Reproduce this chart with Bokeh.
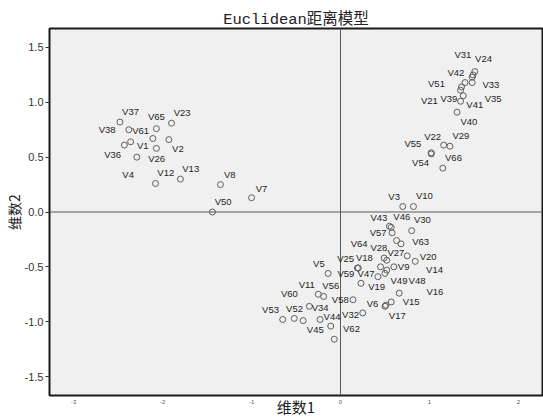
from bokeh.plotting import figure
from bokeh.models import (ColumnDataSource, LabelSet, Span, Range1d,
                          FixedTicker, NumeralTickFormatter)
from bokeh.core.properties import value
from bokeh.embed import file_html
from bokeh.resources import INLINE

# ---- data (stimulus coordinates, Euclidean distance model) ----
names = ["V%d" % i for i in range(1, 67)]
dim1 = [-2.11, -1.93, 0.70, -2.29, -0.14, 0.50, -1.00, -1.35, 0.60, 0.82,
        -0.25, -2.08, -1.80, 0.84, 0.57, 0.66, 0.51, 0.45, 0.23, 0.75,
        1.35, 1.16, -1.90, 1.51, 0.19, -2.07, 0.63, 0.52, 1.23, 0.80,
        1.49, 0.25, 1.48, -0.23, 1.48, -2.43, -2.48, -2.38, 1.35, 1.31,
        1.38, 1.40, 0.55, -0.11, -0.42, 0.57, 0.42, 0.52, 0.50, -1.44,
        1.36, -0.52, -0.65, 1.02, 1.02, -0.19, 0.58, 0.14, 0.20, -0.35,
        -2.36, -0.07, 0.68, 0.49, -2.07, 1.15]
dim2 = [0.67, 0.66, 0.05, 0.50, -0.56, -0.86, 0.13, 0.25, -0.50, 0.05,
        -0.75, 0.26, 0.30, -0.45, -0.82, -0.74, -0.85, -0.50, -0.65, -0.40,
        1.01, 0.61, 0.81, 1.28, -0.51, 0.58, -0.26, -0.44, 0.60, -0.17,
        1.25, -0.92, 1.23, -0.98, 1.18, 0.61, 0.82, 0.75, 1.11, 0.91,
        1.06, 1.18, -0.13, -1.04, -0.99, -0.14, -0.59, -0.53, -0.56, 0.00,
        1.14, -0.97, -0.98, 0.53, 0.54, -0.77, -0.19, -0.80, -0.51, -0.86,
        0.64, -1.16, -0.29, -0.42, 0.76, 0.40]
x_ticks = [-3, -2, -1, 0, 1, 2]
y_ticks = [-1.5, -1.0, -0.5, 0.0, 0.5, 1.0, 1.5]
title_text = "Euclidean距离模型"
x_title = "维数1"
y_title = "维数2"

# ---- label placement (pixels: right, down) ----
LABEL_OFFSETS = {
    "V1": (-10, 7), "V2": (9, 9.3), "V3": (-8.6, -9.6), "V4": (-8.7, 17),
    "V5": (-9.2, -9.9), "V6": (-12.5, -2.8), "V7": (10, -9.4), "V8": (9.4, -10),
    "V9": (9.8, 0), "V10": (11, -11), "V11": (-11.5, -9.4), "V12": (10.3, -10.6),
    "V13": (10.3, -10.7), "V14": (19.3, 7.8), "V15": (20, -0.3), "V16": (35.7, -1.3),
    "V17": (11.4, 9.8), "V18": (-16.2, -9.3), "V19": (15.7, 2.8), "V20": (20.9, 0.2),
    "V21": (-31.2, -0.4), "V22": (-11.1, -9), "V23": (10.6, -10.7), "V24": (8.7, -12.7),
    "V25": (-11.7, -9.8), "V26": (0.3, 10.4), "V27": (-0.7, 12.2), "V28": (-7.8, -12.7),
    "V29": (11, -10.5), "V30": (10.7, -11.4), "V31": (-10.2, -20.2), "V32": (-12.2, 1.3),
    "V33": (18.8, 7), "V34": (0.1, -11.7), "V35": (21, 16.2), "V36": (-11.7, 9.3),
    "V37": (10.6, -11), "V38": (-21.7, 0), "V39": (-11.7, 8.5), "V40": (11.8, 9.3),
    "V41": (11.5, 9), "V42": (-9.2, -10), "V43": (-10.5, -8.6), "V44": (1.3, -9.7),
    "V45": (12.1, 9.4), "V46": (10.6, -10.6), "V47": (-11.8, -3.3), "V48": (30.3, 10),
    "V49": (14, 7), "V50": (10.7, -10.6), "V51": (-25, -3), "V52": (0.3, -10),
    "V53": (-12.2, -9.8), "V54": (-10.7, 9), "V55": (-18.4, -9.4), "V56": (7.2, -11.2),
    "V57": (-14, 0), "V58": (-12.7, 0), "V59": (-12.4, 5.4), "V60": (-20, -12.6),
    "V61": (10, -11.4), "V62": (17.2, -11.2), "V63": (19.6, -2.5), "V64": (-25, -14.7),
    "V65": (0, -12), "V66": (10.7, -11),
}

X0, X1 = -3.272, 2.271
Y0, Y1 = -1.673, 1.673

source = ColumnDataSource(dict(
    x=dim1, y=dim2, name=names,
    xo=[LABEL_OFFSETS[n][0] for n in names],
    yo=[-LABEL_OFFSETS[n][1] for n in names],
))

p = figure(width=543, height=419, output_backend="svg", toolbar_location=None,
           x_range=Range1d(X0, X1), y_range=Range1d(Y0, Y1),
           min_border_left=46, min_border_right=1, min_border_top=28,
           min_border_bottom=22, title=title_text)

p.background_fill_color = "#F0F0F0"
p.border_fill_color = "white"
p.outline_line_color = "#1a1a1a"
p.outline_line_width = 2
p.xgrid.visible = False
p.ygrid.visible = False

p.title.text_font = "Liberation Mono, Noto Sans CJK SC"
p.title.text_font_size = "15.5px"
p.title.text_font_style = "normal"
p.title.text_color = "#222222"
p.title.align = "center"
p.title.offset = -11
p.title.standoff = 0

# y axis
p.yaxis.ticker = FixedTicker(ticks=y_ticks)
p.yaxis.formatter = NumeralTickFormatter(format="0.0")
p.yaxis.axis_line_color = None
p.yaxis.major_tick_out = 4
p.yaxis.major_tick_in = 0
p.yaxis.minor_tick_line_color = None
p.yaxis.major_tick_line_color = "#333333"
p.yaxis.major_label_standoff = 2
p.yaxis.major_label_text_font = "Liberation Sans"
p.yaxis.major_label_text_font_size = "11px"
p.yaxis.major_label_text_color = "#333333"
p.yaxis.axis_label = y_title
p.yaxis.axis_label_text_font = "Noto Sans CJK SC"
p.yaxis.axis_label_text_font_size = "14px"
p.yaxis.axis_label_text_font_style = "normal"
p.yaxis.axis_label_text_color = "#222222"
p.yaxis.axis_label_standoff = -2

# x axis
p.xaxis.ticker = FixedTicker(ticks=x_ticks)
p.xaxis.formatter = NumeralTickFormatter(format="0")
p.xaxis.axis_line_color = None
p.xaxis.major_tick_out = 0
p.xaxis.major_tick_in = 0
p.xaxis.major_tick_line_color = None
p.xaxis.minor_tick_line_color = None
p.xaxis.major_label_standoff = 4
p.xaxis.major_label_text_font = "Liberation Sans"
p.xaxis.major_label_text_font_size = "6px"
p.xaxis.major_label_text_color = "#555555"
p.xaxis.axis_label = x_title
p.xaxis.axis_label_text_font = "Noto Sans CJK SC"
p.xaxis.axis_label_text_font_size = "15px"
p.xaxis.axis_label_text_font_style = "normal"
p.xaxis.axis_label_text_color = "#222222"
p.xaxis.axis_label_standoff = -11

# zero reference lines
p.add_layout(Span(location=0, dimension="height", line_color="#5a5a5a", line_width=1))
p.add_layout(Span(location=0, dimension="width", line_color="#5a5a5a", line_width=1))

# points
p.scatter("x", "y", source=source, marker="circle", size=6,
          fill_alpha=0, line_color="#5f5f5f", line_width=1)

labels = LabelSet(x="x", y="y", text="name", source=source,
                  x_offset="xo", y_offset="yo",
                  text_align="center", text_baseline="middle",
                  text_font=value("Liberation Sans"), text_font_size="9.5px",
                  text_color="#1e1e1e")
p.add_layout(labels)

open("out.html", "w").write(file_html(p, INLINE))
